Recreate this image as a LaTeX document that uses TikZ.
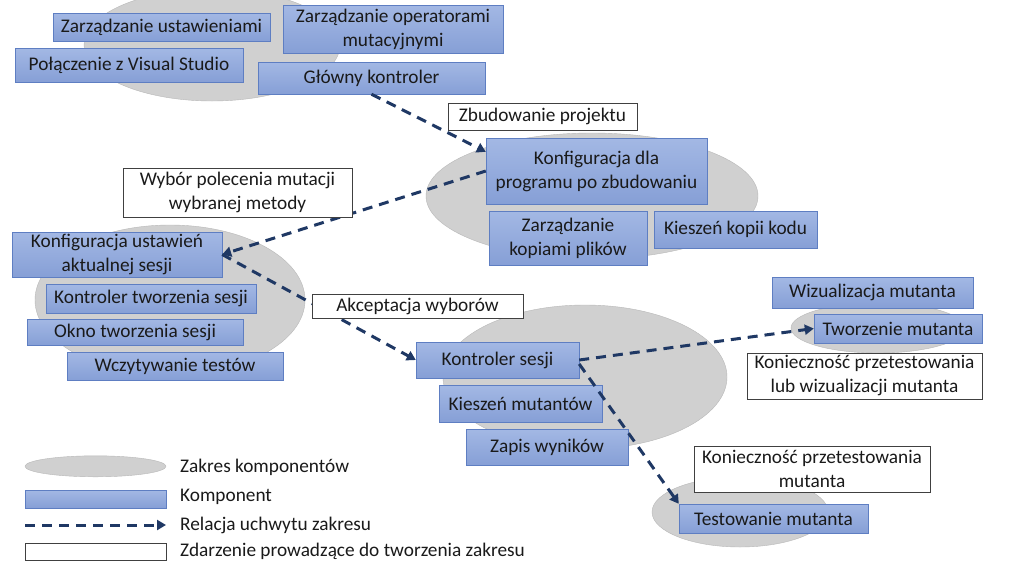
\documentclass[tikz,border=0pt]{standalone}
\usepackage{fontspec}
\setmainfont{Carlito}
\usepackage{xcolor}
\usepackage{tikz}
\usetikzlibrary{positioning, shapes, arrows.meta, shapes.geometric}

\definecolor{zakresfill}{HTML}{D0D0D0}
\definecolor{zakresline}{HTML}{B8B8B8}
\definecolor{komptop}{HTML}{A3B8E4}
\definecolor{kompbot}{HTML}{869FD6}
\definecolor{kompline}{HTML}{5E7EC2}
\definecolor{granat}{HTML}{1F3864}
\definecolor{tekst}{HTML}{1A1A1A}

\begin{document}
\begin{tikzpicture}[
    x=1pt, y=-1pt,
    font=\fontsize{19.3}{24}\selectfont,
    text=tekst,
    zakres/.style={ellipse, fill=zakresfill, draw=zakresline, inner sep=0pt},
    komponent/.style={rectangle, draw=kompline, top color=komptop, bottom color=kompbot, align=center, inner sep=0pt},
    zdarzenie/.style={rectangle, draw=black!75, fill=white, align=center, inner sep=0pt},
    relacja/.style={draw=granat, line width=3pt, dash pattern=on 10pt off 7pt, -{Triangle[length=9pt, width=10pt]}},
    opis/.style={anchor=west, inner sep=0pt}
]

\fill[white] (0,0) rectangle (1024,576);
\useasboundingbox (0,0) rectangle (1024,576);

% Zakresy komponentow
\node[zakres, minimum width=256pt, minimum height=112pt] (z1) at (212,45) {};
\node[zakres, minimum width=332pt, minimum height=126pt] (z2) at (592,196) {};
\node[zakres, minimum width=270pt, minimum height=150pt] (z3) at (170,300) {};
\node[zakres, minimum width=284pt, minimum height=144pt] (z4) at (585,377) {};
\node[zakres, minimum width=174pt, minimum height=50pt] (z5) at (878,328) {};
\node[zakres, minimum width=176pt, minimum height=70pt] (z6) at (740,512) {};

% Glowny zakres
\node[komponent, minimum width=217pt, minimum height=28pt] (ustaw) at (161.5,27) {Zarządzanie ustawieniami};
\node[komponent, minimum width=220pt, minimum height=48pt] (oper) at (393,29) {Zarządzanie operatorami\\mutacyjnymi};
\node[komponent, minimum width=228pt, minimum height=34pt] (vs) at (129,65) {Połączenie z Visual Studio};
\node[komponent, minimum width=227pt, minimum height=32pt] (glowny) at (371.5,78) {Główny kontroler};

% Zakres po zbudowaniu
\node[komponent, minimum width=221pt, minimum height=66pt] (konfprog) at (596.5,171) {Konfiguracja dla\\programu po zbudowaniu};
\node[komponent, minimum width=158pt, minimum height=54pt] (kopie) at (568,238) {Zarządzanie\\kopiami plików};
\node[komponent, minimum width=163pt, minimum height=37pt] (kieszkod) at (735.5,229.5) {Kieszeń kopii kodu};

% Zakres tworzenia sesji
\node[komponent, minimum width=210pt, minimum height=45pt] (konfust) at (117,254.5) {Konfiguracja ustawień\\aktualnej sesji};
\node[komponent, minimum width=210pt, minimum height=29pt] (kontrtw) at (151,298.5) {Kontroler tworzenia sesji};
\node[komponent, minimum width=216pt, minimum height=26pt] (okno) at (135,332) {Okno tworzenia sesji};
\node[komponent, minimum width=216pt, minimum height=28pt] (wczyt) at (175,366) {Wczytywanie testów};

% Zakres sesji
\node[komponent, minimum width=163pt, minimum height=36pt] (sesja) at (497.5,360) {Kontroler sesji};
\node[komponent, minimum width=163pt, minimum height=37pt] (kieszmut) at (520.5,403.5) {Kieszeń mutantów};
\node[komponent, minimum width=162pt, minimum height=36pt] (zapis) at (547,447) {Zapis wyników};

% Zakresy mutanta
\node[komponent, minimum width=201pt, minimum height=31pt] (wiz) at (872.5,292.5) {Wizualizacja mutanta};
\node[komponent, minimum width=168pt, minimum height=29pt] (tworz) at (898,328.5) {Tworzenie mutanta};
\node[komponent, minimum width=189pt, minimum height=29pt] (test) at (773.5,518.5) {Testowanie mutanta};

% Relacje uchwytu zakresu
\draw[relacja] (glowny.south) -- ([yshift=-14pt]konfprog.north west);
\draw[relacja] (konfprog.west) -- (konfust.east);
\draw[relacja] (konfust.east) -- (sesja.west);
\draw[relacja] (sesja.east) -- (tworz.west);
\draw[relacja] ([yshift=-4pt]sesja.east) -- (test.north west);

% Zdarzenia
\node[zdarzenie, minimum width=189pt, minimum height=27pt] (zbud) at (542.5,116.5) {Zbudowanie projektu};
\node[zdarzenie, minimum width=229pt, minimum height=49pt] (wybor) at (237.5,192.5) {Wybór polecenia mutacji\\wybranej metody};
\node[zdarzenie, minimum width=211pt, minimum height=24pt] (akcept) at (417.5,306) {Akceptacja wyborów};
\node[zdarzenie, minimum width=235pt, minimum height=46pt] (konwiz) at (864.5,376) {Konieczność przetestowania\\lub wizualizacji mutanta};
\node[zdarzenie, minimum width=236pt, minimum height=46pt] (kontest) at (812,469) {Konieczność przetestowania\\mutanta};

% Legenda
\node[zakres, minimum width=141pt, minimum height=21pt] (lz) at (95.5,466.3) {};
\node[komponent, minimum width=141pt, minimum height=18pt] (lk) at (95.5,499) {};
\coordinate (lr1) at (25,525);
\coordinate (lr2) at (166,525);
\draw[relacja] (lr1) -- (lr2);
\node[zdarzenie, minimum width=141pt, minimum height=17pt] (lzd) at (95.5,551.3) {};
\node[opis] (tz) at (180,467) {Zakres komponentów};
\node[opis] (tk) at (180,497) {Komponent};
\node[opis] (tr) at (180,525) {Relacja uchwytu zakresu};
\node[opis] (tzd) at (180,551) {Zdarzenie prowadzące do tworzenia zakresu};

\end{tikzpicture}
\end{document}
